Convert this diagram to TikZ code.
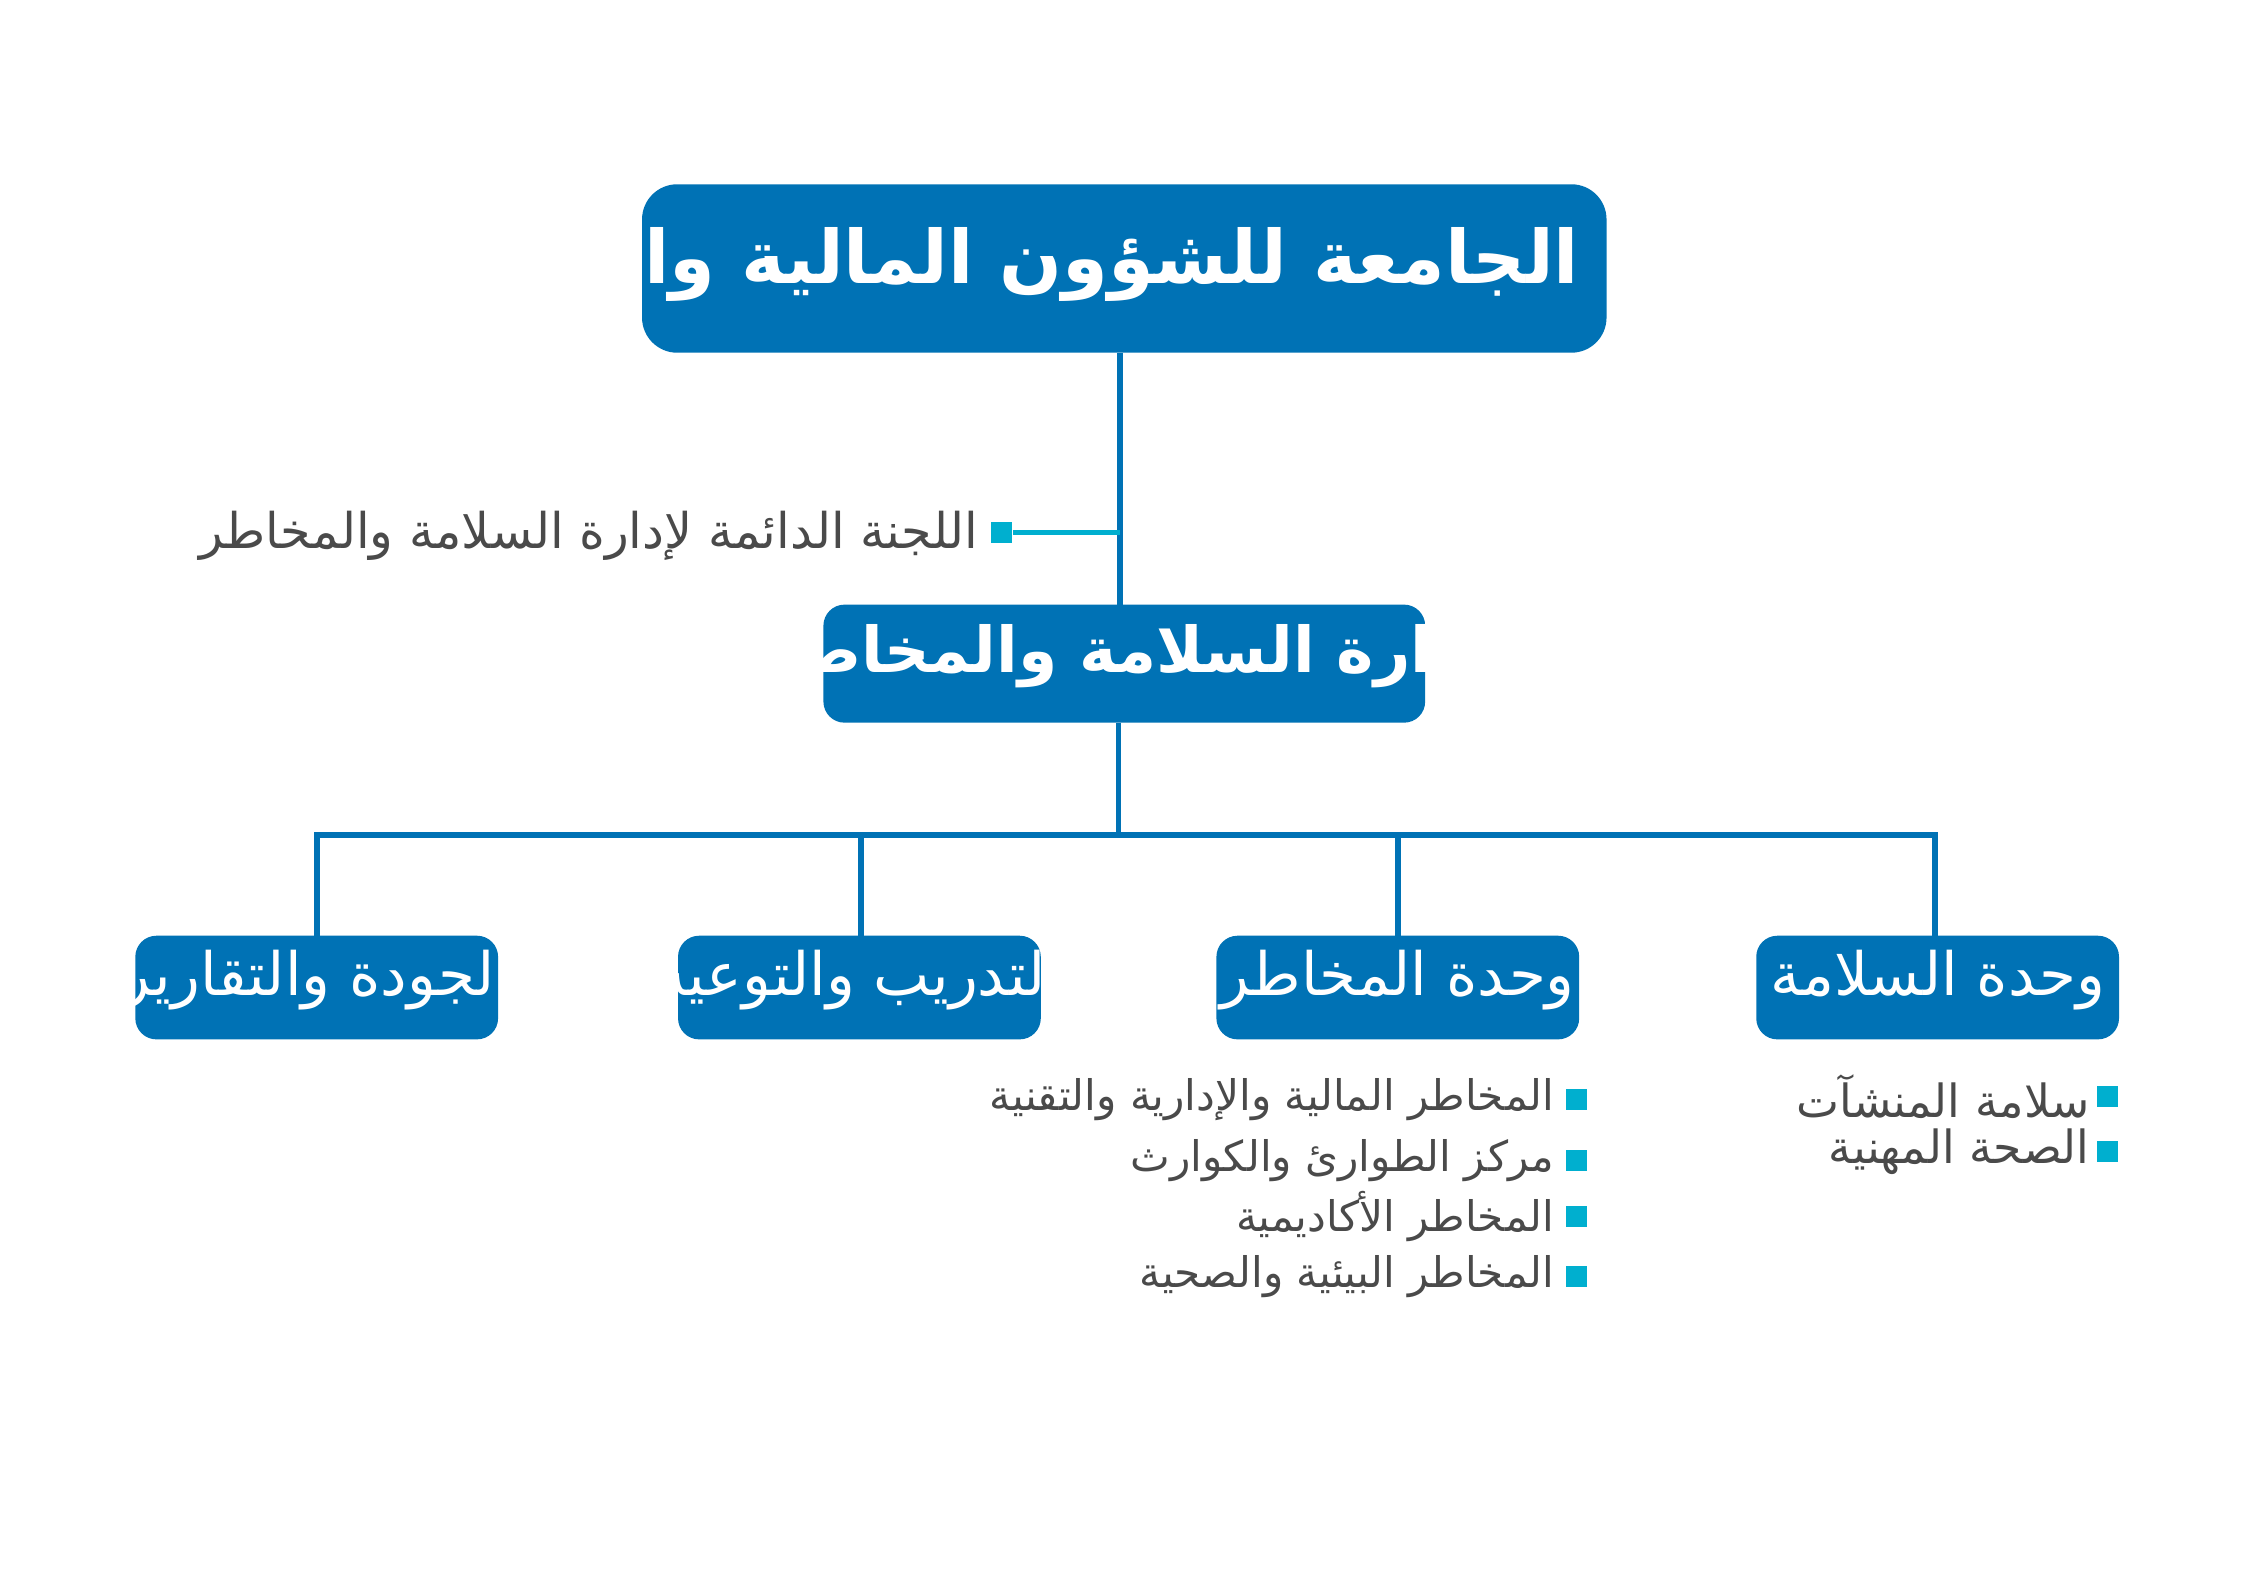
\documentclass[tikz,border=0pt]{standalone}
\usepackage{fontspec}
\TeXXeTstate=1
\newfontfamily\arabicfont[Script=Arabic]{DejaVu Sans}
\definecolor{boxblue}{HTML}{0072B5}
\definecolor{cyanb}{HTML}{00AFCF}
\definecolor{txtgray}{HTML}{4A4A4A}
\tikzset{
 box/.style={fill=boxblue,rounded corners=6pt,text=white},
 conn/.style={draw=boxblue,line width=1.6pt},
 bul/.style={fill=cyanb,minimum size=6pt,inner sep=0pt},
 btxt/.style={anchor=east,text=txtgray,font=\arabicfont\fontsize{12}{14}\selectfont,inner sep=0pt},
}
\begin{document}
\begin{tikzpicture}[x=0.0144cm,y=-0.0144cm]
\useasboundingbox (0,0) rectangle (1563,1105);
\fill[white] (0,0) rectangle (1563,1105);
% top
\fill[box,rounded corners=10pt] (446,128) rectangle (1116,245);
\node[text=white,font=\arabicfont\bfseries\fontsize{21}{25}\selectfont] (top) at (781,184) {\beginR وكيل الجامعة للشؤون المالية والفنية\endR};
\coordinate (tb) at (778,245);
\fill[box] (572,420) rectangle (990,502);
\node[text=white,font=\arabicfont\bfseries\fontsize{18}{22}\selectfont] (mid) at (781,456) {\beginR إدارة السلامة والمخاطر\endR};
\coordinate (mt) at (778,420);
\draw[conn] (tb) -- (mt);
\coordinate (cj) at (778,370);
\node[bul] (cb) at (696,370) {};
\draw[draw=cyanb,line width=1.6pt] (cj) -- (cb);
\node[btxt,font=\arabicfont\fontsize{14}{16}\selectfont] (ct) at (680,372) {\beginR اللجنة الدائمة لإدارة السلامة والمخاطر\endR};
% bottom boxes
\foreach \x/\n/\t in {220/b1/الجودة والتقارير,597/b2/التدريب والتوعية,971/b3/وحدة المخاطر,1346/b4/وحدة السلامة}{
 \fill[box] (\x-126,650) rectangle (\x+126,722);
 \node[text=white,font=\arabicfont\fontsize{17}{20}\selectfont] (\n) at (\x,681) {\beginR \t\endR};
}
\coordinate (mb) at (777,502);
\coordinate (hj) at (777,580);
\draw[conn] (mb) -- (hj);
\draw[conn] (220,650) -- (220,580) -- (1344,580) -- (1344,650);
\draw[conn] (598,580) -- (598,650);
\draw[conn] (971,580) -- (971,650);
% bullets
\foreach \y/\t in {764/المخاطر المالية والإدارية والتقنية,806/مركز الطوارئ والكوارث,845/المخاطر الأكاديمية,887/المخاطر البيئية والصحية}{
 \node[bul] at (1095,\y) {};
 \node[btxt] at (1080,\y) {\beginR \t\endR};
}
\foreach \y/\t in {762/سلامة المنشآت,800/الصحة المهنية}{
 \node[bul] at (1464,\y) {};
 \node[btxt,font=\arabicfont\fontsize{13}{15}\selectfont] at (1452,\y) {\beginR \t\endR};
}
\end{tikzpicture}
\end{document}
